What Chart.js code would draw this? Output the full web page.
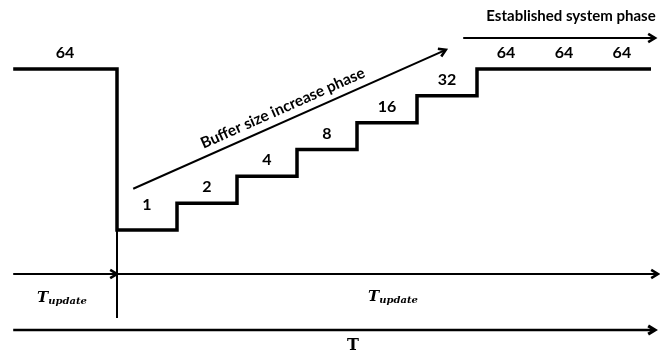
<!DOCTYPE html>
<html>
<head>
<meta charset="utf-8">
<script src="https://cdn.jsdelivr.net/npm/chart.js@4/dist/chart.umd.min.js"></script>
<style>
  html, body { margin: 0; padding: 0; background: #ffffff; }
  canvas { display: block; }
</style>
</head>
<body>
<canvas id="bufferChart" width="660" height="351"></canvas>
<script>
// time in update slots (0 = moment of the update), buffer size held from each time on
const times = [-1.73, 0, 1, 2, 3, 4, 5, 6, 6.97, 7.93, 8.9];
const bufferSizes = [64, 1, 2, 4, 8, 16, 32, 64, 64, 64, 64];
const phaseTitles = ["Buffer size increase phase", "Established system phase"];
const periodLabel = ["T", "update"];
const totalLabel = "T";

function flecha(ctx, x1, y1, x2, y2, ancho) {
    const ang = Math.atan2(y2 - y1, x2 - x1);
    const largo = 8;
    ctx.lineWidth = ancho;
    ctx.beginPath();
    ctx.moveTo(x1, y1);
    ctx.lineTo(x2, y2);
    ctx.stroke();
    ctx.lineWidth = ancho + 0.6;
    ctx.beginPath();
    ctx.moveTo(x2 - largo * Math.cos(ang - 0.55), y2 - largo * Math.sin(ang - 0.55));
    ctx.lineTo(x2, y2);
    ctx.lineTo(x2 - largo * Math.cos(ang + 0.55), y2 - largo * Math.sin(ang + 0.55));
    ctx.stroke();
}

function periodo(ctx, x, y) {
    ctx.textAlign = "left";
    ctx.font = "italic 700 15px 'DejaVu Serif'";
    ctx.fillText(periodLabel[0], x, y);
    const w = ctx.measureText(periodLabel[0]).width;
    ctx.font = "italic 700 10px 'DejaVu Serif'";
    ctx.fillText(periodLabel[1], x + w, y + 2);
}

const diagramAnnotations = {
    id: "diagramAnnotations",
    afterDatasetsDraw(chart) {
        const { ctx } = chart;
        const sx = chart.scales.x;
        const sy = chart.scales.y;
        const px = (t) => sx.getPixelForValue(t);
        const py = (v) => sy.getPixelForValue(v);
        ctx.save();
        ctx.fillStyle = "#000000";
        ctx.strokeStyle = "#000000";
        ctx.lineCap = "butt";
        ctx.lineJoin = "miter";

        // buffer size labels above each held segment
        ctx.font = "700 16px Lato";
        ctx.textAlign = "center";
        ctx.textBaseline = "alphabetic";
        for (let i = 0; i < times.length - 1; i++) {
            const xm = (px(times[i]) + px(times[i + 1])) / 2;
            const extra = i === 1 ? 9 : 0;
            ctx.fillText(String(bufferSizes[i]), xm, py(bufferSizes[i]) - 11 - extra);
        }

        // update marker running down to the time axes
        const xu = px(times[1]);
        ctx.lineWidth = 2;
        ctx.beginPath();
        ctx.moveTo(xu, py(bufferSizes[0]));
        ctx.lineTo(xu, 318);
        ctx.stroke();

        // increase phase arrow and label
        const ax1 = px(0.27), ay1 = py(2.9);
        const ax2 = px(5.48), ay2 = py(105);
        flecha(ctx, ax1, ay1, ax2, ay2, 2);
        const ang = Math.atan2(ay2 - ay1, ax2 - ax1);
        const cx = 288;
        const cy = ay1 + (cx - ax1) * Math.tan(ang);
        ctx.save();
        ctx.translate(cx, cy);
        ctx.rotate(ang);
        ctx.font = "700 15.5px Lato";
        ctx.textAlign = "center";
        ctx.fillText(phaseTitles[0], 0, -8);
        ctx.restore();

        // established phase arrow and label
        flecha(ctx, px(5.77), 38, 655, 38, 2);
        ctx.font = "700 15px Lato";
        ctx.textAlign = "center";
        ctx.fillText(phaseTitles[1], 571, 21);

        // update period row
        flecha(ctx, px(times[0]), 274, xu, 274, 2);
        flecha(ctx, xu, 274, 658, 274, 2);
        periodo(ctx, 37, 302);
        periodo(ctx, 368, 301);

        // total time
        flecha(ctx, px(times[0]), 330, 655, 330, 2.5);
        ctx.font = "700 16px 'DejaVu Serif'";
        ctx.textAlign = "center";
        ctx.fillText(totalLabel, 353, 350);
        ctx.restore();
    }
};

new Chart(document.getElementById("bufferChart"), {
    type: "line",
    plugins: [diagramAnnotations],
    data: {
        datasets: [{
            data: times.map((t, i) => ({ x: t, y: bufferSizes[i] })),
            stepped: "before",
            borderColor: "#000000",
            borderWidth: 3.5,
            borderJoinStyle: "miter",
            borderCapStyle: "butt",
            pointRadius: 0,
            fill: false
        }]
    },
    options: {
        responsive: false,
        animation: false,
        events: [],
        layout: { padding: 0 },
        plugins: { legend: { display: false }, tooltip: { enabled: false }, title: { display: false } },
        scales: {
            x: { type: "linear", min: -1.95, max: 9.05, display: false },
            y: { type: "logarithmic", min: 0.0439, max: 380.6, display: false }
        }
    }
});
</script>
</body>
</html>
